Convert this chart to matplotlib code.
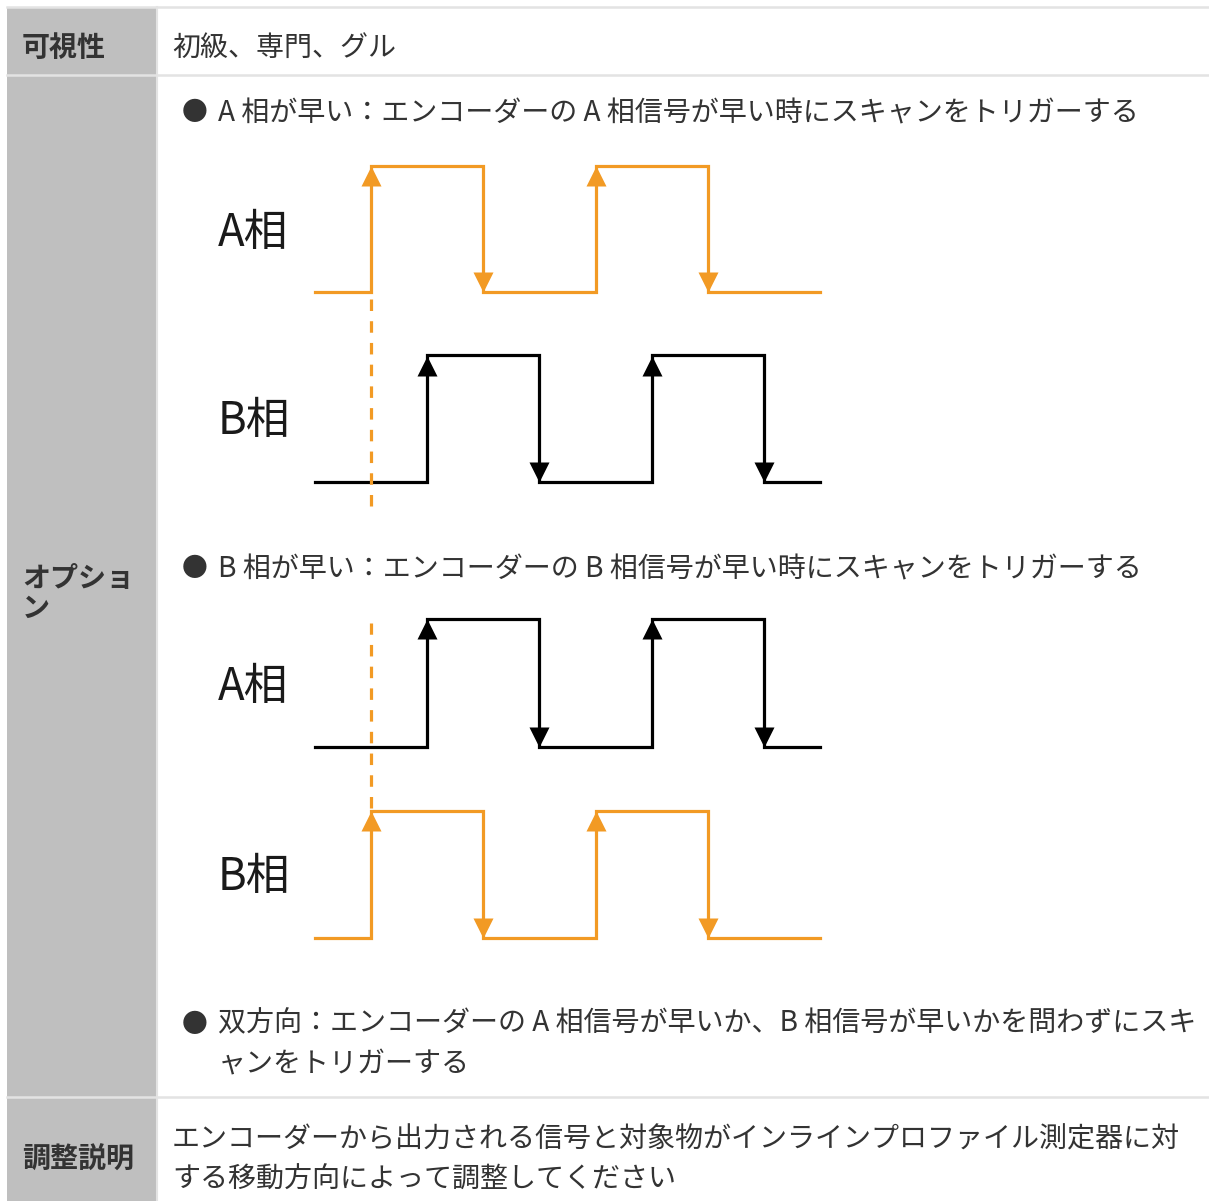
import numpy as np
import matplotlib.pyplot as plt
from matplotlib.patches import Rectangle

plt.rcParams['font.family'] = ['Noto Sans CJK JP', 'DejaVu Sans']

# table content
row_headers = ["可視性", "オプショ\nン", "調整説明"]
visibility = "初級、専門、グル"
bullets = [
    "A 相が早い：エンコーダーの A 相信号が早い時にスキャンをトリガーする",
    "B 相が早い：エンコーダーの B 相信号が早い時にスキャンをトリガーする",
    "双方向：エンコーダーの A 相信号が早いか、B 相信号が早いかを問わずにスキ\nャンをトリガーする",
]
adjust_note = ("エンコーダーから出力される信号と対象物がインラインプロファイル測定器に対\n"
               "する移動方向によって調整してください")

# signal levels per time step (9 steps)
lead_wave = [0, 1, 1, 0, 0, 1, 1, 0, 0]
lag_wave = [0, 0, 1, 1, 0, 0, 1, 1, 0]
phase_labels = ["A相", "B相"]

ORANGE = "#f29a24"
TXT = "#333333"
GREY = "#bfbfbf"
LINE = "#e3e3e3"

W, H = 1209, 1201
fig = plt.figure(figsize=(W / 100, H / 100), dpi=100)
ax = fig.add_axes([0, 0, 1, 1])
ax.set_xlim(0, W)
ax.set_ylim(H, 0)
ax.axis("off")

# table grid
rows = [(7, 75), (75, 1097), (1097, 1201)]
for top, bot in rows:
    ax.add_patch(Rectangle((7, top), 150, bot - top, fc=GREY, ec="none"))
    ax.plot([7, W], [top, top], color=LINE, lw=1.8, zorder=3)
ax.plot([157, 157], [7, H], color=LINE, lw=1.5, zorder=3)

fs = 20.2
hdr_y = [48, 594, 1160]
for lab, y in zip(row_headers, hdr_y):
    ax.text(22, y, lab, fontsize=fs, fontweight="bold", color=TXT,
            ha="left", va="center", linespacing=1.1)

ax.text(172, 48, visibility, fontsize=fs, color=TXT, ha="left", va="center")

bullet_y = [113, 569, 1044]
for txt, y in zip(bullets, bullet_y):
    first = 1024 if "\n" in txt else y
    ax.text(182, first, "●", fontsize=fs * 0.92, color=TXT, ha="left", va="center")
    ax.text(218, y, txt, fontsize=fs, color=TXT, ha="left", va="center",
            linespacing=1.45)

ax.text(172, 1160, adjust_note, fontsize=fs, color=TXT, ha="left", va="center",
        linespacing=1.45)


def draw_wave(wax, levels, base, color):
    t = np.arange(len(levels) + 1)
    y = np.array(levels + [levels[-1]]) + base
    wax.plot(t, y, drawstyle="steps-post", color=color, lw=2.3,
             solid_joinstyle="miter", clip_on=False)
    for i in range(1, len(levels)):
        if levels[i] > levels[i - 1]:
            wax.plot(i, base + 0.92, marker="^", ms=15, color=color,
                     mec="none", clip_on=False)
        elif levels[i] < levels[i - 1]:
            wax.plot(i, base + 0.08, marker="v", ms=15, color=color,
                     mec="none", clip_on=False)


def panel(base_px, unit_px, a_wave, b_wave, a_col, b_col, dash_span):
    lo, hi = -0.4, 2.7
    bot_px = base_px - lo * unit_px
    top_px = base_px - hi * unit_px
    wax = fig.add_axes([315 / W, (H - bot_px) / H, 505 / W, (bot_px - top_px) / H])
    wax.set_xlim(0, 9)
    wax.set_ylim(lo, hi)
    wax.axis("off")
    draw_wave(wax, a_wave, 1.5, a_col)
    draw_wave(wax, b_wave, 0.0, b_col)
    wax.plot([1, 1], dash_span, color=ORANGE, lw=2.3, dashes=(3.6, 3.2),
             clip_on=False)
    for lab, yl in zip(phase_labels, [1.97, 0.48]):
        wax.text(-1.74, yl, lab, fontsize=31.5, color="#1a1a1a", ha="left",
                 va="center", clip_on=False)


panel(482, 126.5, lead_wave, lag_wave, ORANGE, "black", [1.45, -0.25])
panel(938, 127.5, lag_wave, lead_wave, "black", ORANGE, [1.02, 2.47])

fig.savefig("out.png", dpi=100)
